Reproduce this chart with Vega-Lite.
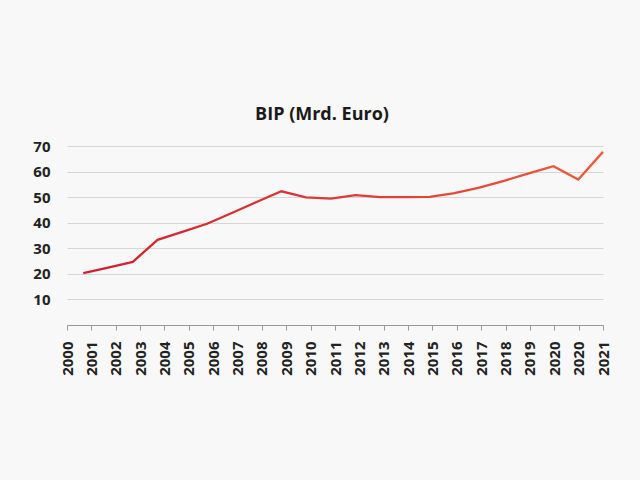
{
  "$schema": "https://vega.github.io/schema/vega-lite/v6.json",
  "autosize": {"type": "none"},
  "padding": {"left": 67, "top": 146, "right": 37, "bottom": 155},
  "width": 536,
  "height": 179,
  "background": "#f8f8f8",
  "title": {
    "text": "BIP (Mrd. Euro)",
    "anchor": "middle",
    "dx": -13,
    "offset": 15,
    "font": "Open Sans",
    "fontSize": 18,
    "fontWeight": "bold",
    "color": "#1a1a1a"
  },
  "config": {
    "view": {"stroke": null},
    "font": "Open Sans"
  },
  "data": {
    "values": [
      {"year": 2000, "bip": 20.3},
      {"year": 2001, "bip": 22.4},
      {"year": 2002, "bip": 24.7},
      {"year": 2003, "bip": 33.3},
      {"year": 2004, "bip": 36.4},
      {"year": 2005, "bip": 39.6},
      {"year": 2006, "bip": 43.8},
      {"year": 2007, "bip": 48.1},
      {"year": 2008, "bip": 52.3},
      {"year": 2009, "bip": 49.9},
      {"year": 2010, "bip": 49.4},
      {"year": 2011, "bip": 50.8},
      {"year": 2012, "bip": 50.0},
      {"year": 2013, "bip": 50.0},
      {"year": 2014, "bip": 50.1},
      {"year": 2015, "bip": 51.6},
      {"year": 2016, "bip": 53.7},
      {"year": 2017, "bip": 56.4},
      {"year": 2018, "bip": 59.3},
      {"year": 2019, "bip": 62.1},
      {"year": 2020, "bip": 56.9},
      {"year": 2021, "bip": 67.7}
    ]
  },
  "mark": {
    "type": "line",
    "strokeWidth": 2.3,
    "color": {
      "gradient": "linear",
      "x1": 0, "y1": 0, "x2": 1, "y2": 0,
      "stops": [
        {"offset": 0, "color": "#d21f30"},
        {"offset": 0.5, "color": "#df3a36"},
        {"offset": 1, "color": "#f05a3c"}
      ]
    }
  },
  "encoding": {
    "x": {
      "field": "year",
      "type": "quantitative",
      "scale": {"domain": [1999.3404, 2021], "nice": false, "zero": false},
      "axis": {
        "title": null,
        "grid": false,
        "values": [1999.3404, 2000.3249, 2001.3095, 2002.294, 2003.2785, 2004.2631, 2005.2476, 2006.2321, 2007.2166, 2008.2012, 2009.1857, 2010.1702, 2011.1548, 2012.1393, 2013.1238, 2014.1084, 2015.0929, 2016.0774, 2017.0619, 2018.0465, 2019.031, 2020.0155, 2021.0],
        "labelExpr": "'' + floor(datum.value + 0.978)",
        "labelAngle": -90,
        "labelFontSize": 15,
        "labelFontWeight": "bold",
        "labelColor": "#222222",
        "labelPadding": 11,
        "labelFlush": false,
        "labelOverlap": false,
        "tickSize": 5,
        "tickColor": "#999999",
        "domainColor": "#999999"
      }
    },
    "y": {
      "field": "bip",
      "type": "quantitative",
      "scale": {"domain": [0, 70], "nice": false},
      "axis": {
        "title": null,
        "values": [10, 20, 30, 40, 50, 60, 70],
        "domain": false,
        "ticks": false,
        "grid": true,
        "gridColor": "#d6d6d6",
        "labelFontSize": 15,
        "labelFontWeight": "bold",
        "labelColor": "#222222",
        "labelPadding": 17
      }
    }
  }
}
